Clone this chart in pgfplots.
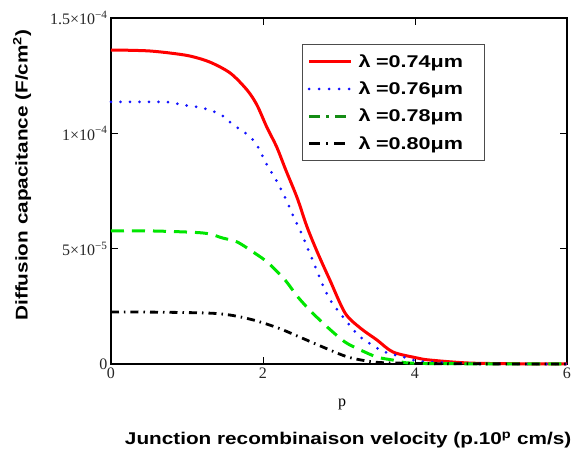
\documentclass[border=0pt]{standalone}
\usepackage{fontspec}
\setmainfont{Liberation Serif}
\setsansfont{Liberation Sans}
\usepackage{pgfplots}
\usepackage{pgfplotstable}
\pgfplotsset{compat=1.18}

% Diffusion capacitance (F/cm^2) versus p, for four wavelengths
\pgfplotstableread{
x     c
0.00  1.361e-4
0.25  1.360e-4
0.51  1.357e-4
0.78  1.348e-4
1.04  1.335e-4
1.30  1.309e-4
1.57  1.261e-4
1.79  1.188e-4
1.92  1.123e-4
2.05  1.027e-4
2.18  0.941e-4
2.30  0.841e-4
2.45  0.720e-4
2.58  0.594e-4
2.72  0.481e-4
2.88  0.364e-4
3.08  0.221e-4
3.28  0.156e-4
3.50  0.104e-4
3.71  0.052e-4
4.03  0.026e-4
4.20  0.017e-4
4.72  0.004e-4
5.40  0.001e-4
6.00  0.000
}\lamA
\pgfplotstableread{
x     c
0.00  1.136e-4
0.71  1.136e-4
0.95  1.123e-4
1.20  1.110e-4
1.43  1.084e-4
1.55  1.053e-4
1.67  1.023e-4
1.80  0.993e-4
1.91  0.954e-4
2.04  0.871e-4
2.18  0.793e-4
2.30  0.715e-4
2.41  0.633e-4
2.50  0.570e-4
2.64  0.460e-4
2.79  0.340e-4
2.88  0.280e-4
2.99  0.230e-4
3.17  0.156e-4
3.28  0.117e-4
3.41  0.088e-4
3.58  0.055e-4
3.76  0.037e-4
3.93  0.024e-4
4.11  0.010e-4
5.00  0.001e-4
6.00  0.000
}\lamB
\pgfplotstableread{
x     c
0.00  5.77e-5
0.51  5.77e-5
1.21  5.68e-5
1.47  5.46e-5
1.66  5.29e-5
1.89  4.81e-5
2.07  4.38e-5
2.29  3.64e-5
2.46  2.90e-5
2.64  2.25e-5
2.86  1.56e-5
3.08  0.95e-5
3.28  0.61e-5
3.50  0.30e-5
3.71  0.17e-5
3.93  0.04e-5
4.60  0.01e-5
6.00  0.00
}\lamC
\pgfplotstableread{
x     c
0.00  2.25e-5
0.51  2.25e-5
1.26  2.21e-5
1.57  2.12e-5
1.87  1.91e-5
2.20  1.56e-5
2.51  1.13e-5
2.82  0.69e-5
3.12  0.30e-5
3.45  0.09e-5
3.76  0.04e-5
4.50  0.01e-5
6.00  0.00
}\lamD

\definecolor{cRed}{RGB}{255,0,0}
\definecolor{cBlue}{RGB}{20,20,255}
\definecolor{cGreen}{RGB}{0,230,0}
\definecolor{cGreenDark}{RGB}{20,140,20}

% bold sans text, widened like the original labels
\newcommand{\lbl}[1]{\scalebox{1.22}[1]{#1}}
\newcommand{\leg}[1]{\hspace*{4pt}\scalebox{1.27}[1]{λ\hspace{0.25em}#1}\hspace*{14pt}}

\begin{document}
\begin{tikzpicture}
\useasboundingbox (-111pt,-90pt) rectangle (463pt,364pt);
\begin{axis}[
  scale only axis,
  width=456pt, height=346pt,
  xmin=0, xmax=6, ymin=0, ymax=1.5e-4,
  xtick={0,2,4,6},
  ytick={0,5e-5,1e-4,1.5e-4},
  yticklabels={0,
    5\texttimes10\textsuperscript{−5},
    1\texttimes10\textsuperscript{−4},
    1.5\texttimes10\textsuperscript{−4}},
  scaled y ticks=false,
  /pgf/number format/assume math mode=true,
  tick label style={font=\fontsize{16}{18}\selectfont, color=black!85},
  tick align=inside,
  major tick length=7pt,
  tick style={black, line width=0.9pt},
  axis line style={line width=1.1pt},
  clip=false,
  xlabel={p},
  xlabel style={at={(axis description cs:0.507,-0.118)}, anchor=center,
    font=\fontsize{16}{18}\selectfont},
  ylabel={\lbl{Diffusion capacitance (F/cm\textsuperscript{2})}},
  ylabel style={at={(axis description cs:-0.195,0.546)}, anchor=center,
    font=\sffamily\bfseries\fontsize{17}{20}\selectfont},
  legend style={at={(axis description cs:0.419,0.925)}, anchor=north west,
    draw=black!70, line width=1.3pt,
    font=\sffamily\bfseries\fontsize{17}{20}\selectfont,
    inner xsep=5pt, inner ysep=8pt, row sep=9pt},
  legend cell align=left,
  legend image code/.code={\draw[#1] (0pt,0pt) -- (42pt,0pt);},
]
\addplot[cRed, line width=3pt, smooth, forget plot] table[x=x,y=c]{\lamA};
\addplot[cBlue, line width=3pt, line cap=round, dash pattern=on 0pt off 9.5pt, smooth, forget plot] table[x=x,y=c]{\lamB};
\addplot[cGreen, line width=3pt, dash pattern=on 13pt off 8pt, smooth, forget plot] table[x=x,y=c]{\lamC};
\addplot[black, line width=2.8pt, dash pattern=on 8pt off 5pt on 1.5pt off 5pt, smooth, forget plot] table[x=x,y=c]{\lamD};

\addlegendimage{cRed, line width=3pt}
\addlegendentry{\leg{=0.74μm}}
\addlegendimage{cBlue, line width=3pt, line cap=round, dash pattern=on 0pt off 10pt}
\addlegendentry{\leg{=0.76μm}}
\addlegendimage{cGreenDark, line width=3pt, dash pattern=on 11pt off 6pt on 3pt off 6pt}
\addlegendentry{\leg{=0.78μm}}
\addlegendimage{black, line width=2.8pt, dash pattern=on 11pt off 6pt on 2pt off 6pt}
\addlegendentry{\leg{=0.80μm}}

\node[font=\sffamily\bfseries\fontsize{17}{20}\selectfont, anchor=center]
  at (axis description cs:0.520,-0.220)
  {\lbl{Junction recombinaison velocity (p.10\textsuperscript{p} cm/s)}};
\end{axis}
\end{tikzpicture}
\end{document}
